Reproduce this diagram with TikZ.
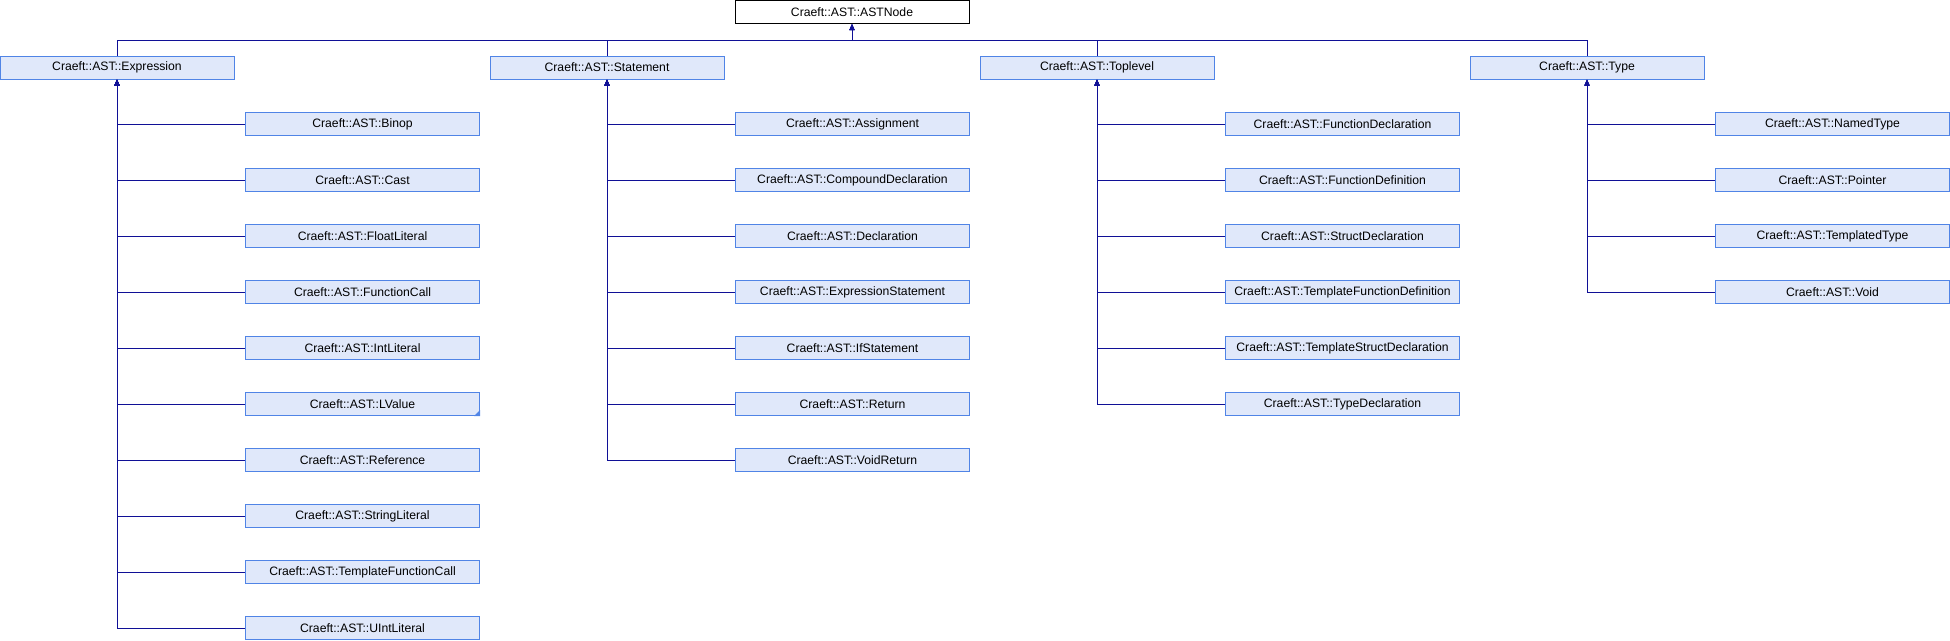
\documentclass[tikz,border=0pt]{standalone}
\usepackage{fontspec}
\setmainfont{Liberation Sans}
\usetikzlibrary{arrows.meta}
\definecolor{boxfill}{RGB}{224,232,250}
\definecolor{boxline}{RGB}{80,132,230}
\definecolor{edgecol}{RGB}{16,16,150}
\begin{document}
\begin{tikzpicture}[x=1pt,y=-1pt,
  cls/.style={draw=boxline,fill=boxfill,line width=1pt,minimum width=234pt,minimum height=23pt,inner sep=0pt,font=\fontsize{12.2}{14}\selectfont},
  rootbox/.style={cls,draw=black,fill=white},
  edge/.style={draw=edgecol,line width=1pt,{Triangle[length=6pt,width=5pt]}-}]
\useasboundingbox (0,0) rectangle (1950,640);
\node[rootbox] (root) at (852,12) {Craeft::AST::ASTNode};
\coordinate (bus) at (852,40);
\node[cls] (expr) at (117,67.5) {Craeft::AST::Expression};
\node[cls] (stmt) at (607,67.5) {Craeft::AST::Statement};
\node[cls] (top) at (1097,67.5) {Craeft::AST::Toplevel};
\node[cls] (type) at (1587,67.5) {Craeft::AST::Type};
\foreach \c in {expr,stmt,top,type}{
  \draw[edge] (root.south) -- (bus) -| (\c.north);
}
% Expression children
\foreach \n/\t [count=\k from 0] in {e1/Binop,e2/Cast,e3/FloatLiteral,e4/FunctionCall,e5/IntLiteral,e6/LValue,e7/Reference,e8/StringLiteral,e9/TemplateFunctionCall,e10/UIntLiteral}{
  \node[cls] (\n) at (362.5,124+56*\k) {Craeft::AST::\t};
  \draw[edge] (expr.south) |- (\n.west);
}
\fill[boxline] (e6.south east) -- ++(-6,0) -- ++(6,-6) -- cycle;
% Statement children
\foreach \n/\t [count=\k from 0] in {s1/Assignment,s2/CompoundDeclaration,s3/Declaration,s4/ExpressionStatement,s5/IfStatement,s6/Return,s7/VoidReturn}{
  \node[cls] (\n) at (852.5,124+56*\k) {Craeft::AST::\t};
  \draw[edge] (stmt.south) |- (\n.west);
}
% Toplevel children
\foreach \n/\t [count=\k from 0] in {t1/FunctionDeclaration,t2/FunctionDefinition,t3/StructDeclaration,t4/TemplateFunctionDefinition,t5/TemplateStructDeclaration,t6/TypeDeclaration}{
  \node[cls] (\n) at (1342.5,124+56*\k) {Craeft::AST::\t};
  \draw[edge] (top.south) |- (\n.west);
}
% Type children
\foreach \n/\t [count=\k from 0] in {y1/NamedType,y2/Pointer,y3/TemplatedType,y4/Void}{
  \node[cls] (\n) at (1832.5,124+56*\k) {Craeft::AST::\t};
  \draw[edge] (type.south) |- (\n.west);
}
\end{tikzpicture}
\end{document}
